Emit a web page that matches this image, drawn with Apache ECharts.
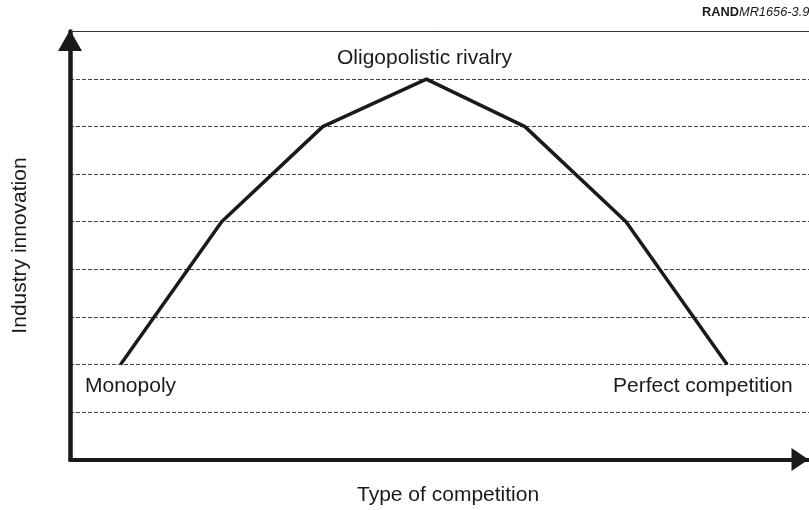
<!DOCTYPE html>
<html>
<head>
<meta charset="utf-8">
<script src="https://cdn.jsdelivr.net/npm/echarts@6/dist/echarts.min.js"></script>
<style>
  html, body { margin: 0; padding: 0; background: #fff; }
  #chart { width: 809px; height: 510px; }
</style>
</head>
<body>
<div id="chart"></div>
<script>
// competition type positions (x) and innovation level (y)
const competitionX = [1, 3, 5, 7.05, 9, 11, 13];
const innovationY = [2, 5, 7, 8, 7, 5, 2];
const pointNames = ['Monopoly', '', '', 'Oligopolistic rivalry', '', '', 'Perfect competition'];

const chart = echarts.init(document.getElementById('chart'));

const lineData = competitionX.map((x, i) => [x, innovationY[i]]);
const FONT = '"Liberation Sans", Arial, Helvetica, sans-serif';

const option = {
  animation: false,
  grid: { left: 70, right: 0, top: 31.5, bottom: 50.5 },
  xAxis: [
    {
      type: 'value',
      min: 0,
      max: 14.62,
      axisLine: {
        show: true,
        lineStyle: { color: '#1a1a1a', width: 4 },
        symbol: ['none', 'triangle'],
        symbolSize: [23, 17],
        symbolOffset: [0, -9]
      },
      axisTick: { show: false },
      axisLabel: { show: false },
      splitLine: { show: false }
    },
    {
      type: 'value',
      position: 'top',
      min: 0,
      max: 14.62,
      axisLine: { show: true, lineStyle: { color: '#333', width: 1 } },
      axisTick: { show: false },
      axisLabel: { show: false },
      splitLine: { show: false }
    }
  ],
  yAxis: {
    type: 'value',
    min: 0,
    max: 9,
    interval: 1,
    name: 'Industry innovation',
    nameLocation: 'middle',
    nameRotate: 90,
    nameGap: 39,
    nameTextStyle: { fontFamily: FONT, fontSize: 21, color: '#1a1a1a' },
    axisLine: {
      show: true,
      lineStyle: { color: '#1a1a1a', width: 4.5 },
      symbol: ['none', 'triangle'],
      symbolSize: [24, 21],
      symbolOffset: [0, -9]
    },
    axisTick: { show: false },
    axisLabel: { show: false },
    splitLine: {
      show: true,
      lineStyle: { color: '#444', width: 1, type: [4, 2] }
    }
  },
  series: [
    {
      type: 'line',
      data: lineData,
      symbol: 'none',
      lineStyle: { color: '#1a1a1a', width: 3.5 },
      z: 5
    }
  ],
  graphic: [
    {
      type: 'text', left: 337, top: 48,
      style: { text: pointNames[3], font: '21px ' + FONT, fill: '#1a1a1a' }
    },
    {
      type: 'text', left: 85, top: 376,
      style: { text: pointNames[0], font: '21px ' + FONT, fill: '#1a1a1a' }
    },
    {
      type: 'text', left: 613, top: 376,
      style: { text: pointNames[6], font: '21px ' + FONT, fill: '#1a1a1a' }
    },
    {
      type: 'text', left: 357, top: 485,
      style: { text: 'Type of competition', font: '21px ' + FONT, fill: '#1a1a1a' }
    },
    {
      type: 'text', left: 702, top: 6,
      style: {
        text: '{b|RAND}{i|MR1656-3.9}',
        rich: {
          b: { font: 'bold 12.8px ' + FONT, fill: '#1a1a1a' },
          i: { font: 'italic 12.8px ' + FONT, fill: '#1a1a1a' }
        }
      }
    }
  ]
};

chart.setOption(option);
</script>
</body>
</html>
